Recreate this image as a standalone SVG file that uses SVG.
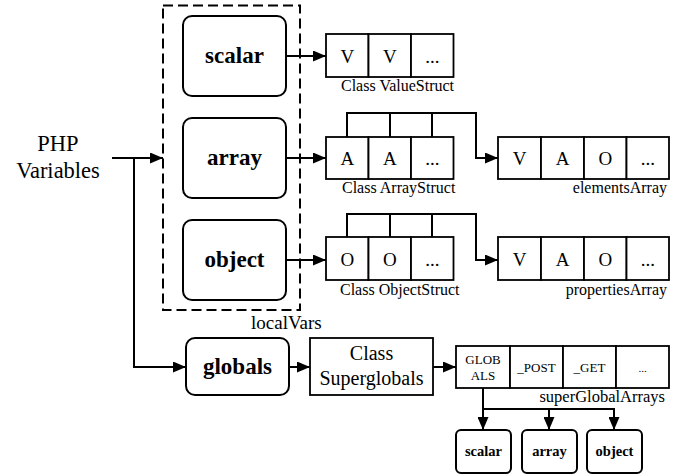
<svg xmlns="http://www.w3.org/2000/svg" width="684" height="476" viewBox="0 0 684 476" font-family="'Liberation Serif', 'Times New Roman', 'DejaVu Serif', serif">
<defs>
<marker id="ah" markerUnits="userSpaceOnUse" markerWidth="13" markerHeight="11" refX="13" refY="5.5" orient="auto"><path d="M0,0 L13,5.5 L0,11 z" fill="#000"/></marker>
</defs>
<style>
text{font-family:'Liberation Serif','Times New Roman','DejaVu Serif',serif;fill:#000}
.rb{fill:#fff;stroke:#000;stroke-width:2}
.cell{fill:#fff;stroke:#000;stroke-width:1.8}
.big{font-size:23px;font-weight:bold;text-anchor:middle}
.sm{font-size:14.5px;font-weight:bold;text-anchor:middle}
.ct{font-size:19px;text-anchor:middle}
.lb{font-size:16px}
.c{fill:none;stroke:#000;stroke-width:2}
.ca{fill:none;stroke:#000;stroke-width:2;marker-end:url(#ah)}
</style>
<rect x="0" y="0" width="684" height="476" fill="#fff"/>

<g id="php-variables">
<text x="58" y="151" font-size="22.5" text-anchor="middle">PHP</text>
<text x="58" y="178" font-size="22.5" text-anchor="middle">Variables</text>
</g>

<g id="localVars">
<rect x="163" y="5.5" width="137" height="304.5" fill="none" stroke="#000" stroke-width="2" stroke-dasharray="10,5"/>
<text x="251" y="329" font-size="19">localVars</text>
</g>

<g id="scalar"><rect class="rb" x="183" y="16" width="103" height="80" rx="9"/><text class="big" x="234.5" y="63">scalar</text></g>
<g id="array"><rect class="rb" x="183" y="118" width="103" height="80" rx="9"/><text class="big" x="234.5" y="165">array</text></g>
<g id="object"><rect class="rb" x="183" y="220" width="103" height="80" rx="9"/><text class="big" x="234.5" y="267">object</text></g>
<g id="globals"><rect class="rb" x="186" y="338" width="103" height="57" rx="9"/><text class="big" x="237.5" y="374">globals</text></g>

<g id="valueStruct">
<rect class="cell" x="326" y="34" width="42.5" height="43"/>
<rect class="cell" x="368.5" y="34" width="42.5" height="43"/>
<rect class="cell" x="411" y="34" width="42.5" height="43"/>
<text class="ct" x="347.25" y="63">V</text>
<text class="ct" x="389.75" y="63">V</text>
<text class="ct" x="432.25" y="63" font-size="16">...</text>
<text class="lb" x="341" y="91">Class ValueStruct</text>
</g>

<g id="arrayStruct">
<rect class="cell" x="326" y="137" width="42.5" height="42"/>
<rect class="cell" x="368.5" y="137" width="42.5" height="42"/>
<rect class="cell" x="411" y="137" width="42.5" height="42"/>
<text class="ct" x="347.25" y="165">A</text>
<text class="ct" x="389.75" y="165">A</text>
<text class="ct" x="432.25" y="165" font-size="16">...</text>
<text class="lb" x="342" y="193">Class ArrayStruct</text>
</g>

<g id="elementsArray">
<rect class="cell" x="498" y="137" width="43" height="42"/>
<rect class="cell" x="541" y="137" width="43" height="42"/>
<rect class="cell" x="584" y="137" width="42.5" height="42"/>
<rect class="cell" x="626.5" y="137" width="42.5" height="42"/>
<text class="ct" x="519.5" y="165">V</text>
<text class="ct" x="562.5" y="165">A</text>
<text class="ct" x="605.25" y="165">O</text>
<text class="ct" x="647.75" y="165" font-size="16">...</text>
<text class="lb" x="667" y="193" text-anchor="end">elementsArray</text>
</g>

<g id="objectStruct">
<rect class="cell" x="326" y="237" width="42.5" height="43"/>
<rect class="cell" x="368.5" y="237" width="42.5" height="43"/>
<rect class="cell" x="411" y="237" width="42.5" height="43"/>
<text class="ct" x="347.25" y="266">O</text>
<text class="ct" x="389.75" y="266">O</text>
<text class="ct" x="432.25" y="266" font-size="16">...</text>
<text class="lb" x="340" y="295">Class ObjectStruct</text>
</g>

<g id="propertiesArray">
<rect class="cell" x="498" y="237" width="43" height="43"/>
<rect class="cell" x="541" y="237" width="43" height="43"/>
<rect class="cell" x="584" y="237" width="42.5" height="43"/>
<rect class="cell" x="626.5" y="237" width="42.5" height="43"/>
<text class="ct" x="519.5" y="266">V</text>
<text class="ct" x="562.5" y="266">A</text>
<text class="ct" x="605.25" y="266">O</text>
<text class="ct" x="647.75" y="266" font-size="16">...</text>
<text class="lb" x="667" y="295" text-anchor="end">propertiesArray</text>
</g>

<g id="classSuperglobals">
<rect class="cell" x="310" y="338" width="123" height="57"/>
<text x="371.5" y="360" font-size="20" text-anchor="middle">Class</text>
<text x="371.5" y="385" font-size="20" text-anchor="middle">Superglobals</text>
</g>

<g id="superGlobalArrays">
<rect class="cell" x="456" y="346" width="54" height="42"/>
<rect class="cell" x="510" y="346" width="53" height="42"/>
<rect class="cell" x="563" y="346" width="53" height="42"/>
<rect class="cell" x="616" y="346" width="53" height="42"/>
<text x="483" y="364" font-size="13" text-anchor="middle">GLOB</text>
<text x="483" y="380" font-size="13" text-anchor="middle">ALS</text>
<text x="536.5" y="372" font-size="13" text-anchor="middle">_POST</text>
<text x="589.5" y="372" font-size="13" text-anchor="middle">_GET</text>
<text x="642.5" y="372" font-size="11" text-anchor="middle">...</text>
<text x="665" y="402" font-size="16.5" text-anchor="end">superGlobalArrays</text>
</g>

<g id="g-scalar"><rect class="rb" x="456" y="430" width="55" height="43" rx="5"/><text class="sm" x="483.5" y="456">scalar</text></g>
<g id="g-array"><rect class="rb" x="522" y="430" width="55" height="43" rx="5"/><text class="sm" x="549.5" y="456">array</text></g>
<g id="g-object"><rect class="rb" x="587" y="430" width="55" height="43" rx="5"/><text class="sm" x="614.5" y="456">object</text></g>

<g id="connectors">
<path class="ca" d="M112,158 H163"/>
<path class="ca" d="M134,158 V367 H186"/>
<path class="ca" d="M286,56 H326"/>
<path class="ca" d="M286,158 H326"/>
<path class="ca" d="M286,260 H326"/>
<path class="ca" d="M347,137 V113 H476 V158 H498"/>
<path class="c" d="M390,137 V113 M432,137 V113"/>
<path class="ca" d="M347,237 V214 H476 V260 H498"/>
<path class="c" d="M390,237 V214 M432,237 V214"/>
<path class="ca" d="M289,367 H310"/>
<path class="ca" d="M433,367 H456"/>
<path class="ca" d="M483,388 V430"/>
<path class="ca" d="M483,409 H549 V430"/>
<path class="ca" d="M549,409 H614 V430"/>
</g>
</svg>
